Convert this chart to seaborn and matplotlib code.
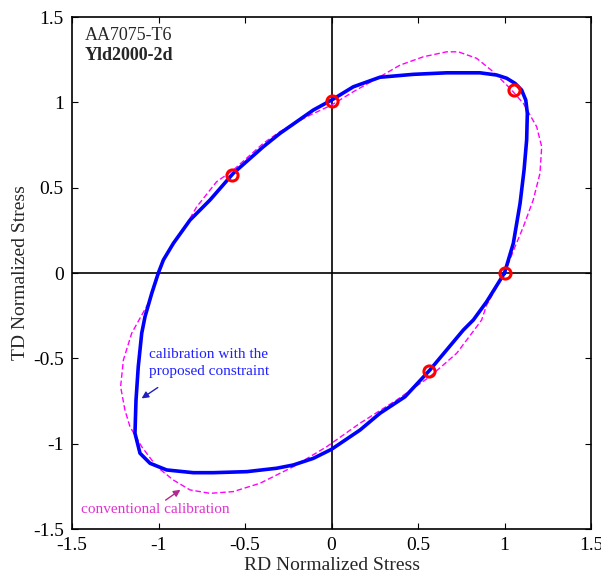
import numpy as np
import pandas as pd
import matplotlib
matplotlib.use("Agg")
import matplotlib.pyplot as plt
import seaborn as sns

# ---- data ----
blue_x = [1.0, 1.051, 1.090, 1.113, 1.128, 1.132, 1.123, 1.099, 1.061, 1.013, 0.955, 0.858,
          0.666, 0.473, 0.280, 0.126, 0.0, -0.105, -0.298, -0.394, -0.568, -0.702, -0.818,
          -0.914, -0.972, -1.001, -1.039, -1.078, -1.097, -1.117, -1.130, -1.136, -1.107,
          -1.049, -0.953, -0.799, -0.683, -0.490, -0.317, -0.221, -0.105, 0.0, 0.165, 0.280,
          0.425, 0.569, 0.762, 0.820, 0.897, 1.0]
blue_y = [0.0, 0.174, 0.408, 0.603, 0.779, 0.936, 1.013, 1.072, 1.111, 1.141, 1.160, 1.173,
          1.173, 1.164, 1.147, 1.091, 1.013, 0.955, 0.818, 0.740, 0.584, 0.428, 0.310,
          0.174, 0.076, 0.0, -0.119, -0.256, -0.353, -0.549, -0.744, -0.939, -1.056,
          -1.115, -1.154, -1.170, -1.170, -1.164, -1.144, -1.125, -1.086, -1.033, -0.920, -0.822,
          -0.725, -0.568, -0.334, -0.275, -0.168, 0.0]

mag_x = [1.0, 1.061, 1.109, 1.166, 1.205, 1.215, 1.186, 1.109, 1.032, 0.935, 0.839, 0.733,
         0.666, 0.531, 0.396, 0.280, 0.126, 0.0, -0.143, -0.298, -0.394, -0.568, -0.664,
         -0.779, -0.857, -0.924, -0.972, -1.010, -1.059, -1.107, -1.155, -1.203, -1.219,
         -1.194, -1.165, -1.097, -1.010, -0.914, -0.818, -0.702, -0.568, -0.413, -0.221,
         -0.028, 0.165, 0.377, 0.569, 0.724, 0.839, 0.868, 0.897, 1.0]
mag_y = [0.0, 0.154, 0.271, 0.428, 0.584, 0.740, 0.857, 0.994, 1.082, 1.179, 1.258, 1.296,
         1.296, 1.267, 1.218, 1.150, 1.062, 0.984, 0.916, 0.828, 0.760, 0.603, 0.535,
         0.388, 0.252, 0.154, 0.070, -0.041, -0.178, -0.265, -0.353, -0.510, -0.666,
         -0.803, -0.900, -1.018, -1.135, -1.213, -1.271, -1.291, -1.281, -1.232, -1.135,
         -1.018, -0.880, -0.744, -0.607, -0.470, -0.315, -0.275, -0.187, 0.0]

exp_x = [0.0, 1.0, -0.575, 1.055, 0.565]
exp_y = [1.005, 0.0, 0.574, 1.072, -0.574]

ticks = [-1.5, -1, -0.5, 0, 0.5, 1, 1.5]
tick_labels = ["-1.5", "-1", "-0.5", "0", "0.5", "1", "1.5"]

# ---- style ----
sns.set_style("ticks")
plt.rcParams["font.family"] = ["Liberation Serif", "DejaVu Serif"]
plt.rcParams["xtick.direction"] = "in"
plt.rcParams["ytick.direction"] = "in"
plt.rcParams["xtick.top"] = True
plt.rcParams["ytick.right"] = True

fig = plt.figure(figsize=(6.01, 5.77), dpi=100)
ax = fig.add_axes([72/601, 1 - 529/577, (591-72)/601, (529-17)/577])

ax.axhline(0, color="black", lw=1.2, zorder=1)
ax.axvline(0, color="black", lw=1.2, zorder=1)

dm = pd.DataFrame({"x": mag_x, "y": mag_y})
db = pd.DataFrame({"x": blue_x, "y": blue_y})
de = pd.DataFrame({"x": exp_x, "y": exp_y})

sns.lineplot(data=dm, x="x", y="y", sort=False, estimator=None, ax=ax,
             color="#ff00ff", lw=1.0, dashes=False, zorder=2)
ax.lines[-1].set_linestyle((0, (4, 2)))
sns.lineplot(data=db, x="x", y="y", sort=False, estimator=None, ax=ax,
             color="#0000ff", lw=2.6, zorder=3)
ax.plot(de["x"], de["y"], "o", mfc="none", mec="red", mew=2.2, ms=8, zorder=4)

ax.set_xlim(-1.5, 1.5)
ax.set_ylim(-1.5, 1.5)
ax.set_xticks(ticks)
ax.set_xticklabels(tick_labels)
ax.set_yticks(ticks)
ax.set_yticklabels(tick_labels)
ax.tick_params(labelsize=14, length=4, width=0.8, colors="black")
ax.tick_params(axis="x", pad=6)
ax.tick_params(axis="y", pad=6)
for s in ax.spines.values():
    s.set_linewidth(1.2)
    s.set_color("black")

ax.set_xlabel("RD Normalized Stress", fontsize=14, labelpad=2)
ax.set_ylabel("TD Normalized Stress", fontsize=14, labelpad=3)

ax.text(-1.425, 1.394, "AA7075-T6", fontsize=13, va="center", ha="left")
ax.text(-1.425, 1.277, "Yld2000-2d", fontsize=13, fontweight="bold", va="center", ha="left")

ax.text(-1.055, -0.480, "calibration with the", fontsize=11, color="#2020ff", va="center")
ax.text(-1.055, -0.580, "proposed constraint", fontsize=11, color="#2020ff", va="center")
ax.annotate("", xy=(-1.111, -0.744), xytext=(-0.991, -0.662),
            arrowprops=dict(arrowstyle="-|>", color="#2020c0", lw=1.0, mutation_scale=10))

ax.text(-1.45, -1.388, "conventional calibration", fontsize=11, color="#e030d0", va="center")
ax.annotate("", xy=(-0.860, -1.261), xytext=(-0.972, -1.340),
            arrowprops=dict(arrowstyle="-|>", color="#b02890", lw=1.0, mutation_scale=10))

fig.savefig("out.png", dpi=100)
